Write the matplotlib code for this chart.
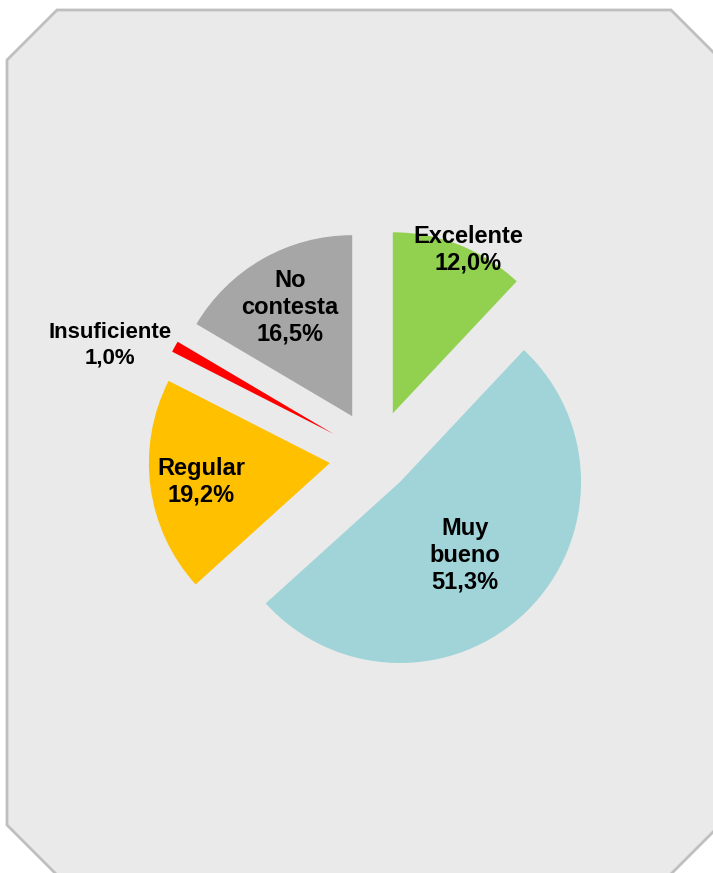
import matplotlib
matplotlib.use("Agg")
import matplotlib.pyplot as plt
from matplotlib.patches import Polygon

# Data
categories = ["Excelente", "Muy bueno", "Regular", "Insuficiente", "No contesta"]
values = [12.0, 51.3, 19.2, 1.0, 16.5]
label_texts = ["Excelente\n12,0%", "Muy\nbueno\n51,3%", "Regular\n19,2%",
               "Insuficiente\n1,0%", "No\ncontesta\n16,5%"]

# Styles / layout (explode in pixel units since radius is in pixels)
colors = ["#92D050", "#A0D4D8", "#FFC000", "#FF0000", "#A6A6A6"]
explode = [47, 35, 46, 48, 47]
label_pos = [(468, 250), (465, 555), (201, 482), (110, 345), (290, 307)]  # screen px
label_sizes = [17, 17, 17, 16, 17]
label_spacing = [1.2, 1.2, 1.2, 1.3, 1.2]

W, H = 713, 873
fig = plt.figure(figsize=(W / 100, H / 100), dpi=100)
fig.patch.set_facecolor("white")
ax = fig.add_axes([0, 0, 1, 1])

# Octagonal background frame (screen pixel coords -> flipped y)
oct_pts = [(7, 60), (57, 10), (671, 10), (725, 64), (725, 820), (665, 880), (62, 880), (7, 825)]
poly = Polygon([(x, H - y) for x, y in oct_pts], closed=True,
               facecolor="#EAEAEA", edgecolor="#BFBFBF", linewidth=2, zorder=0)
ax.add_patch(poly)

ax.pie(values, colors=colors, explode=explode, startangle=90, counterclock=False,
       radius=181, center=(375.5, H - 457),
       wedgeprops=dict(edgecolor="none", zorder=2))

for txt, (x, y), fs, ls in zip(label_texts, label_pos, label_sizes, label_spacing):
    ax.text(x, H - y, txt, ha="center", va="center", fontsize=fs,
            fontweight="bold", family=["Liberation Sans", "DejaVu Sans"],
            color="black", linespacing=ls, zorder=5)

ax.set_xlim(0, W)
ax.set_ylim(0, H)
ax.set_aspect("auto")
ax.axis("off")

fig.savefig("out.png", dpi=100, facecolor="white")
